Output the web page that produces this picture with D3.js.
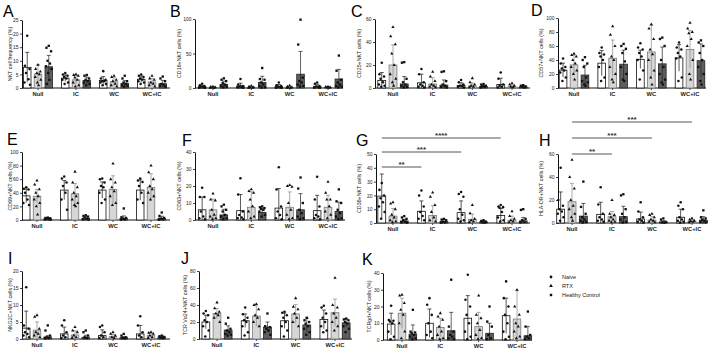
<!DOCTYPE html>
<html>
<head>
<meta charset="utf-8" />
<title>NKT cell subsets</title>
<style>
  body { margin: 0; background: #fff; }
  svg { font-family: Arial, "Liberation Sans", sans-serif; }
</style>
</head>
<body>
<svg width="709" height="352"></svg>
<script src="https://cdn.jsdelivr.net/npm/d3@7"></script>
<script>
var groups = ['Null', 'IC', 'WC', 'WC+IC'];
var series = ['Naive', 'RTX', 'Healthy Control'];

// each panel: rows = Naive, RTX, Healthy Control ; columns = Null, IC, WC, WC+IC
var meanA = [[7.6, 3.6, 2.8, 3.2], [5.1, 3.0, 2.3, 2.2], [7.8, 2.8, 1.7, 1.6]];
var sdA = [[5.5, 1.2, 1.4, 1.2], [3.4, 1.6, 1.5, 1.3], [4.2, 1.2, 1.0, 1.2]];
var ptsA = [
  [[19.2, 8.2, 7, 5.5, 3.2, 2, 1.2], [5.5, 5, 4.5, 4, 3.5, 3, 2, 1.5], [6.2, 3.5, 3, 2.5, 2.5, 2, 1.5, 1], [5, 4.5, 4, 3.5, 3, 2.5, 2, 1.5]],
  [[8.5, 7, 6, 5.5, 5, 4, 3, 2, 1], [5, 4.8, 4.5, 3.8, 3, 2, 1, 0.5], [4.5, 4, 3, 2.5, 1.5, 1, 0.5], [4.5, 3.5, 3, 2, 1.5, 1, 0.5]],
  [[15.5, 14.8, 13.5, 10, 9, 8, 7, 5.5, 3, 1.5], [4.8, 4.5, 3.5, 3, 2.5, 2, 1.5, 1], [4.5, 3.5, 2.5, 2, 1.5, 1, 0.8, 0.5], [4.2, 3.5, 2.5, 1.5, 1, 0.8, 0.5]]
];

var meanB = [[2, 3, 2, 2.5], [0.8, 1, 1, 0.8], [5, 8, 20, 13]];
var sdB = [[2, 4, 3, 3], [0.8, 1, 1.3, 0.8], [5, 9, 33, 14]];
var ptsB = [
  [[6, 4, 3, 2, 1, 0.5, 0.3], [13, 5, 3, 2, 1.5, 1, 0.5], [8, 4, 3, 2, 1, 0.5, 0.2], [8, 6, 3, 2, 1, 0.5, 0.3]],
  [[2, 1.5, 1, 0.5, 0.3, 0.2], [3, 2, 1, 0.5, 0.3, 0.2], [3.5, 2, 1, 0.5, 0.3, 0.2], [2, 1.5, 1, 0.5, 0.3]],
  [[14, 12, 10, 7, 5, 3, 2, 1], [29, 13, 12, 8, 5, 3, 1, 0.5], [99, 63, 15, 10, 8, 5, 3, 2], [47, 25, 12, 8, 5, 3, 2, 1]]
];

var meanC = [[6.5, 4.5, 2.2, 3], [20, 3.5, 1.8, 1.2], [3.5, 2.5, 1.2, 1]];
var sdC = [[7, 7.5, 2.3, 5.5], [17.5, 5.5, 2.5, 1.5], [6.5, 4.5, 1, 0.7]];
var ptsC = [
  [[22, 12, 10, 8, 5, 3, 2, 1], [16.5, 12, 5, 3, 2, 1, 0.5], [7, 5, 3, 2, 1.5, 1, 0.5], [13.5, 8, 3, 2, 1, 0.5]],
  [[53, 45, 38, 30, 20, 12, 8, 5, 2], [14, 10, 6, 3, 2, 1, 0.5], [8.5, 5, 3, 2, 1, 0.5], [4, 3, 2, 1, 0.5]],
  [[22.5, 22, 8, 5, 3, 2, 1, 0.5], [14.5, 14, 6, 3, 2, 1, 0.5], [3.5, 3, 2, 1.5, 1, 0.5], [2.5, 2, 1.5, 1, 0.5]]
];

var meanD = [[25.5, 35.5, 41, 43], [33, 42.5, 51.5, 55], [18.5, 34, 34.5, 39]];
var sdD = [[10, 18, 13, 19], [14, 26, 38, 27], [14, 20, 24, 24]];
var ptsD = [
  [[42, 35, 30, 28, 25, 22, 15, 10], [58, 50, 48, 45, 40, 30, 15, 10], [64, 58, 55, 50, 45, 40, 25, 12], [65, 58, 55, 50, 45, 42, 15, 10]],
  [[49, 47, 45, 40, 35, 30, 25, 20, 12], [88, 76, 60, 45, 40, 30, 20, 12, 8], [91, 85, 70, 55, 48, 40, 25, 15, 5], [93, 85, 80, 78, 70, 60, 40, 20, 12]],
  [[44, 40, 35, 30, 15, 10, 8, 5, 3], [63, 60, 56, 50, 38, 30, 20, 12, 10], [72, 70, 60, 40, 30, 20, 12, 8, 5], [68, 65, 60, 50, 40, 30, 20, 10, 5]]
];

var meanE = [[35.5, 44, 44, 44], [35, 38.5, 45, 48], [2, 2.5, 2, 2.5]];
var sdE = [[10, 14, 12, 15], [10, 15, 20, 20], [1, 2.5, 4, 3]];
var ptsE = [
  [[48, 46, 45, 40, 30, 25, 22], [64, 61, 55, 50, 40, 30, 15], [61, 60, 55, 50, 48, 40, 30, 25], [61, 58, 56, 50, 40, 30, 25]],
  [[58, 52, 45, 40, 35, 30, 25, 20, 8], [71, 55, 48, 40, 35, 30, 25, 22, 20], [83, 60, 55, 48, 42, 35, 25, 22], [80, 70, 60, 50, 45, 40, 35, 30]],
  [[3.5, 3, 2.5, 2, 1.5, 1, 0.5], [7, 6, 5, 3, 2, 1, 0.5], [17, 4, 3, 2, 1, 0.5], [11, 6, 3, 2, 1, 0.5]]
];

var meanF = [[6, 5.5, 7, 5.5], [6, 7.5, 7.5, 7.5], [3, 4.5, 6, 5]];
var sdF = [[7.5, 9.5, 11.5, 9], [6.3, 9, 9, 7], [3.3, 2.5, 9.5, 5.5]];
var ptsF = [
  [[19, 13.5, 13.5, 5, 2, 1, 0.5], [24.5, 15, 5, 3, 1.5, 1, 0.5], [31, 18, 8, 5, 3, 1, 0.5], [25.5, 12, 8, 3, 2, 1, 0.5]],
  [[15.5, 12, 11.5, 6, 3, 2, 1, 0.5], [18, 17, 16, 12, 8, 5, 2, 1], [20.5, 20, 19.5, 10, 6, 3, 1, 0.5], [22.5, 16, 12, 12, 8, 5, 3, 1]],
  [[9, 8, 6, 5, 3, 2, 1, 0.5], [8, 7.5, 7, 6.5, 6, 5, 3, 2], [25, 18.5, 10, 6, 4, 2, 1, 0.5], [18, 11, 10, 6, 4, 2, 1, 0.5]]
];

var meanG = [[19.5, 8.5, 7.5, 5.5], [5, 5.5, 2.5, 2], [1.5, 1, 0.8, 1.5]];
var sdG = [[16, 7.5, 8.5, 5], [5.5, 7, 4, 3], [1.2, 1.5, 0.8, 2.5]];
var ptsG = [
  [[29, 24, 20, 18, 15, 12, 8, 3], [23.5, 20, 12, 8, 5, 3, 2], [22.5, 21, 19, 10, 6, 3, 2, 1], [13, 12, 11.5, 11, 8, 4, 2, 1]],
  [[15, 14, 10, 6, 4, 2, 1, 0.5], [22, 19, 13, 8, 4, 2, 1], [13, 7, 3, 2, 1, 0.5], [8.5, 5, 3, 2, 1, 0.5]],
  [[5, 4, 3, 2, 1, 0.5, 0.3], [3, 2.5, 2, 1, 0.5, 0.3], [2, 1.5, 1, 0.5, 0.3], [10, 9.5, 3, 2, 1, 0.5]]
];

var meanH = [[12, 7.5, 3.5, 5], [18.5, 5.5, 2.5, 1.5], [6, 5.5, 1, 2.5]];
var sdH = [[15, 10.5, 6, 7], [16, 4.5, 3, 1.5], [11, 9, 1, 3]];
var ptsH = [
  [[48, 20, 15, 12, 10, 8, 5, 2], [31, 16, 8, 5, 3, 2, 1], [18, 10, 5, 3, 2, 1, 0.5], [18, 15, 12, 5, 3, 2, 1, 0.5]],
  [[55, 40, 30, 20, 15, 12, 8, 5, 2], [20, 8, 7, 5, 3, 2, 1, 0.5], [8, 7, 5, 3, 2, 1, 0.5], [4, 3, 2, 1.5, 1, 0.5]],
  [[36, 14, 8, 5, 3, 2, 1, 0.5], [25, 24, 12, 8, 5, 3, 1, 0.5], [4, 3, 1, 0.5, 0.3], [11, 5, 4, 3, 2, 1, 0.5]]
];

var meanI = [[3.2, 1.5, 1, 1.5], [2.6, 1.2, 0.7, 1], [0.6, 0.5, 0.4, 0.6]];
var sdI = [[5, 2, 1.7, 2.5], [2.4, 1.2, 0.6, 0.8], [0.4, 0.6, 0.3, 0.3]];
var ptsI = [
  [[15.2, 4, 3, 2, 1.5, 1, 0.5], [5.5, 4, 2, 1, 0.5, 0.3], [4, 3.5, 2, 1, 0.5, 0.3], [6.7, 4, 2, 1, 0.5]],
  [[7, 6.5, 3, 2, 1.5, 1, 0.5], [3.5, 2.5, 2, 1, 0.5, 0.3], [2, 1.5, 1, 0.5, 0.3], [2, 1.8, 1.5, 1, 0.5, 0.3]],
  [[4, 2.5, 1, 0.5, 0.3, 0.2], [2.5, 2, 1, 0.5, 0.3], [1.5, 1, 0.5, 0.3, 0.2], [1, 0.8, 0.6, 0.4, 0.3]]
];

var meanJ = [[20, 21.5, 21.5, 23], [30, 27, 29.5, 31], [10.5, 14, 16.5, 19]];
var sdJ = [[8, 8, 9, 11], [6, 12, 11, 16], [5, 6, 8, 5]];
var ptsJ = [
  [[33, 30, 28, 22, 20, 15, 10, 3], [37, 29, 25, 22, 20, 15, 8, 4], [32, 31, 28, 25, 20, 15, 10, 3], [39, 37, 30, 25, 20, 15, 10, 8]],
  [[43, 36, 32, 30, 28, 25, 20], [41, 40, 35, 28, 25, 20, 15], [48, 38, 35, 30, 25, 20, 15], [72, 40, 37, 30, 25, 20, 15, 10]],
  [[25, 18, 12, 10, 8, 6, 5, 4], [30, 15, 14, 12, 10, 8, 5], [25, 22, 20, 18, 15, 12, 8, 5], [24, 23, 22, 20, 18, 15, 12, 8]]
];

var meanK = [[9.5, 10, 13, 14.5], [16, 7.5, 8, 12.5], [3.5, 5.5, 4, 2.5]];
var sdK = [[6.5, 8.5, 13.5, 10.5], [9, 5.5, 8.5, 17], [5.5, 11, 6, 5.5]];
var ptsK = [
  [[20.5, 12, 11.5, 11, 10, 5, 2, 0.5], [25, 21, 15, 10, 5, 3, 1], [39, 24, 20, 15, 10, 5, 2, 0.5], [35, 25, 20, 15, 10, 5, 2, 0.5]],
  [[27, 26.5, 22, 18, 15, 10, 5, 1], [16, 14, 12, 8, 5, 3, 1, 0.5], [26.5, 15, 13, 10, 6, 3, 1, 0.5], [30, 20, 15, 10, 8, 5, 2, 1]],
  [[18, 5, 4.5, 4, 3, 2, 1, 0.5], [36, 8, 5, 3, 2, 1, 0.5], [20, 11, 8, 3, 1, 0.5], [17, 8, 3, 2, 1, 0.5]]
];

var panelInfo = [
  { id: 'A', title: 'NKT cell frequency (%)', yMax: 25, ticks: [0, 5, 10, 15, 20, 25], mean: meanA, sd: sdA, pts: ptsA },
  { id: 'B', title: 'CD16+NKT cells (%)', yMax: 100, ticks: [0, 50, 100], mean: meanB, sd: sdB, pts: ptsB },
  { id: 'C', title: 'CD25+NKT cells (%)', yMax: 60, ticks: [0, 20, 40, 60], mean: meanC, sd: sdC, pts: ptsC },
  { id: 'D', title: 'CD57+NKT cells (%)', yMax: 100, ticks: [0, 20, 40, 60, 80, 100], mean: meanD, sd: sdD, pts: ptsD },
  { id: 'E', title: 'CD69+NKT cells (%)', yMax: 100, ticks: [0, 20, 40, 60, 80, 100], mean: meanE, sd: sdE, pts: ptsE },
  { id: 'F', title: 'CD63+NKT cells (%)', yMax: 40, ticks: [0, 10, 20, 30, 40], mean: meanF, sd: sdF, pts: ptsF },
  { id: 'G', title: 'CD38+NKT cells (%)', yMax: 50, ticks: [0, 10, 20, 30, 40, 50], mean: meanG, sd: sdG, pts: ptsG },
  { id: 'H', title: 'HLA-DR+NKT cells (%)', yMax: 60, ticks: [0, 20, 40, 60], mean: meanH, sd: sdH, pts: ptsH },
  { id: 'I', title: 'NKG2C+NKT cells (%)', yMax: 20, ticks: [0, 5, 10, 15, 20], mean: meanI, sd: sdI, pts: ptsI },
  { id: 'J', title: 'TCR Vα24+NKT cells (%)', yMax: 80, ticks: [0, 20, 40, 60, 80], mean: meanJ, sd: sdJ, pts: ptsJ },
  { id: 'K', title: 'TCRgd+NKT cells (%)', yMax: 40, ticks: [0, 10, 20, 30, 40], mean: meanK, sd: sdK, pts: ptsK }
];

// significance brackets: [from group, from series, to group, to series, label]
var sigG = [['Null', 'Naive', 'IC', 'Naive', '**'], ['Null', 'Naive', 'WC', 'Naive', '***'], ['Null', 'Naive', 'WC+IC', 'Naive', '****']];
var sigH = [['Null', 'RTX', 'IC', 'RTX', '**'], ['Null', 'RTX', 'WC', 'RTX', '***'], ['Null', 'RTX', 'WC+IC', 'RTX', '***']];

// pixel layout of each panel
var layout = {
  A: { ox: 22, y0: 88, yTop: 20, c0: 38, c3: 152, xEnd: 170, tx: 10, lx: 3, ly: 17 },
  B: { ox: 195, y0: 88, yTop: 19, c0: 213, c3: 328, xEnd: 343, tx: 179, lx: 170, ly: 17 },
  C: { ox: 375, y0: 88, yTop: 19, c0: 393, c3: 512, xEnd: 530, tx: 359, lx: 351, ly: 17 },
  D: { ox: 558, y0: 88, yTop: 18, c0: 574, c3: 690, xEnd: 706, tx: 541, lx: 531, ly: 16 },
  E: { ox: 22, y0: 220, yTop: 152, c0: 37, c3: 151, xEnd: 170, tx: 10, lx: 7, ly: 145 },
  F: { ox: 195, y0: 220, yTop: 152, c0: 213, c3: 328, xEnd: 345, tx: 179, lx: 182, ly: 146 },
  G: { ox: 376, y0: 223, yTop: 154, c0: 393, c3: 512, xEnd: 530, tx: 359, lx: 356, ly: 146 },
  H: { ox: 558, y0: 223, yTop: 154, c0: 572, c3: 692, xEnd: 706, tx: 541, lx: 539, ly: 146 },
  I: { ox: 22, y0: 339, yTop: 271, c0: 37, c3: 151, xEnd: 170, tx: 10, lx: 8, ly: 264 },
  J: { ox: 199, y0: 339, yTop: 271, c0: 217, c3: 335, xEnd: 352, tx: 185, lx: 181, ly: 264 },
  K: { ox: 383, y0: 340, yTop: 273, c0: 402, c3: 517, xEnd: 532, tx: 369, lx: 362, ly: 265 }
};
var sigLayout = { G: [167, 152, 138], H: [154, 138, 122] };

var barFill = { 'Naive': '#ffffff', 'RTX': '#d6d6d6', 'Healthy Control': '#5e5e5e' };
var barStroke = { 'Naive': '#111', 'RTX': '#7a7a7a', 'Healthy Control': '#222' };
var errColor = { 'Naive': '#111', 'RTX': '#888', 'Healthy Control': '#222' };
var symType = { 'Naive': d3.symbolCircle, 'RTX': d3.symbolTriangle, 'Healthy Control': d3.symbolSquare };
var symSize = { 'Naive': 5, 'RTX': 4.5, 'Healthy Control': 5.5 };
var jitter = [0, -2.3, 2.3, -1.2, 1.2, -2.8, 2.8, -0.6, 0.6, -1.8, 1.8];

var svg = d3.select('svg');

panelInfo.forEach(function (p) {
    var L = layout[p.id];
    var g = svg.append('g');

    var y = d3.scaleLinear().domain([0, p.yMax]).range([L.y0, L.yTop]);
    var s = (L.c3 - L.c0) / 3;
    var x = d3.scaleBand().domain(groups)
        .range([L.c0 - s / 2, L.c3 + s / 2])
        .paddingInner(0.15).paddingOuter(0.075);
    var xs = d3.scaleBand().domain(series)
        .range([0, x.bandwidth()])
        .paddingInner(0.3).paddingOuter(0.15);

    // panel letter
    g.append('text')
        .attr('x', L.lx).attr('y', L.ly)
        .attr('font-size', 16)
        .text(p.id);

    // y axis
    var yAxis = g.append('g')
        .attr('transform', 'translate(' + L.ox + ',0)')
        .call(d3.axisLeft(y).tickValues(p.ticks).tickSize(2).tickSizeOuter(0).tickPadding(1.5));
    yAxis.select('.domain').attr('stroke', '#111').attr('stroke-width', 1);
    yAxis.selectAll('.tick line').attr('stroke', '#111').attr('stroke-width', 0.8);
    yAxis.selectAll('.tick text').attr('font-size', 5).attr('fill', '#222')
        .attr('font-family', 'Arial, "Liberation Sans", sans-serif');

    g.append('text')
        .attr('transform', 'translate(' + L.tx + ',' + ((L.y0 + L.yTop) / 2) + ') rotate(-90)')
        .attr('text-anchor', 'middle')
        .attr('dy', '0.35em')
        .attr('font-size', 5.3)
        .attr('fill', '#222')
        .text(p.title);

    // x axis
    g.append('line')
        .attr('x1', L.ox).attr('x2', L.xEnd)
        .attr('y1', L.y0).attr('y2', L.y0)
        .attr('stroke', '#111').attr('stroke-width', 1);
    var xAxis = g.append('g')
        .attr('transform', 'translate(0,' + L.y0 + ')')
        .call(d3.axisBottom(x).tickSize(2).tickSizeOuter(0).tickPadding(1.5));
    xAxis.select('.domain').remove();
    xAxis.selectAll('.tick line').attr('stroke', '#111').attr('stroke-width', 0.8);
    xAxis.selectAll('.tick text').attr('font-size', 5.8).attr('font-weight', 'bold').attr('fill', '#222')
        .attr('font-family', 'Arial, "Liberation Sans", sans-serif');

    series.forEach(function (ser, i) {
        var sg = g.append('g');
        var rows = groups.map(function (grp, j) {
            return { grp: grp, mean: p.mean[i][j], sd: p.sd[i][j], pts: p.pts[i][j] };
        });

        sg.selectAll('rect')
            .data(rows)
            .enter()
            .append('rect')
            .attr('x', function (d) { return x(d.grp) + xs(ser); })
            .attr('width', xs.bandwidth())
            .attr('y', function (d) { return y(d.mean); })
            .attr('height', function (d) { return L.y0 - y(d.mean); })
            .attr('fill', barFill[ser])
            .attr('stroke', barStroke[ser])
            .attr('stroke-width', 0.8);

        var cx = function (d) { return x(d.grp) + xs(ser) + xs.bandwidth() / 2; };

        // error bars (mean +/- SD)
        var eb = sg.selectAll('g.err')
            .data(rows)
            .enter()
            .append('g')
            .attr('class', 'err')
            .attr('stroke', errColor[ser])
            .attr('stroke-width', 0.7);
        eb.append('line')
            .attr('x1', cx).attr('x2', cx)
            .attr('y1', function (d) { return y(Math.max(0, d.mean - d.sd)); })
            .attr('y2', function (d) { return y(d.mean + d.sd); });
        eb.append('line')
            .attr('x1', function (d) { return cx(d) - 2; })
            .attr('x2', function (d) { return cx(d) + 2; })
            .attr('y1', function (d) { return y(d.mean + d.sd); })
            .attr('y2', function (d) { return y(d.mean + d.sd); });

        // individual values
        var sym = d3.symbol().type(symType[ser]).size(symSize[ser]);
        rows.forEach(function (d) {
            sg.selectAll(null)
                .data(d.pts)
                .enter()
                .append('path')
                .attr('d', sym)
                .attr('transform', function (v, k) {
                    return 'translate(' + (cx(d) + jitter[k % jitter.length]) + ',' + y(v) + ')';
                })
                .attr('fill', '#111');
        });
    });

    // significance brackets
    var sig = p.id === 'G' ? sigG : (p.id === 'H' ? sigH : null);
    if (sig) {
        sig.forEach(function (b, k) {
            var yy = sigLayout[p.id][k];
            var xa = x(b[0]) + xs(b[1]) + xs.bandwidth() / 2;
            var xb = x(b[2]) + xs(b[3]) + xs.bandwidth() / 2;
            g.append('line')
                .attr('x1', xa).attr('x2', xb)
                .attr('y1', yy).attr('y2', yy)
                .attr('stroke', '#555').attr('stroke-width', 1);
            g.append('text')
                .attr('x', (xa + xb) / 2).attr('y', yy - 0.5)
                .attr('text-anchor', 'middle')
                .attr('font-size', 8).attr('font-weight', 'bold')
                .attr('fill', '#333')
                .text(b[4]);
        });
    }
});

// legend
var legend = svg.append('g').attr('transform', 'translate(551,277)');
series.forEach(function (ser, i) {
    legend.append('path')
        .attr('d', d3.symbol().type(symType[ser]).size(6))
        .attr('transform', 'translate(0,' + (i * 9) + ')')
        .attr('fill', '#111');
    legend.append('text')
        .attr('x', 11).attr('y', i * 9)
        .attr('dy', '0.35em')
        .attr('font-size', 5.5)
        .attr('fill', '#222')
        .text(ser);
});
</script>
</body>
</html>
